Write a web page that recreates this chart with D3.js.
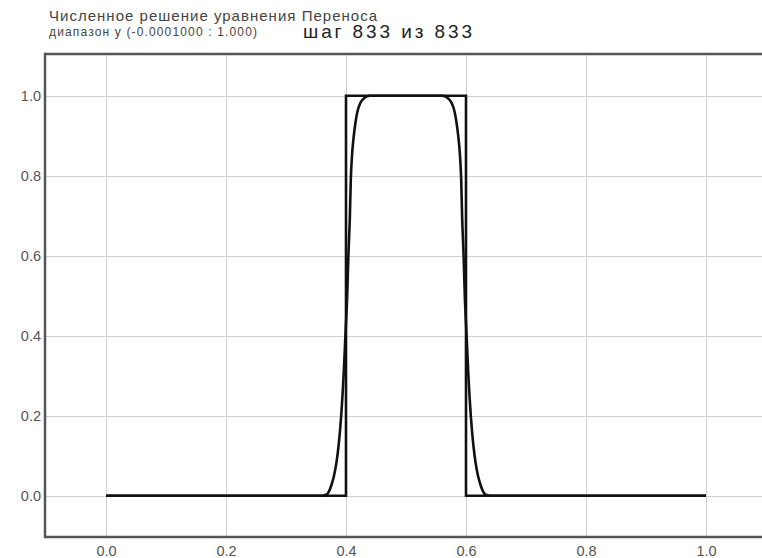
<!DOCTYPE html>
<html>
<head>
<meta charset="utf-8">
<script src="https://cdn.jsdelivr.net/npm/d3@7"></script>
<style>
  html, body { margin: 0; padding: 0; background: #fff; overflow: hidden; }
  svg { display: block; overflow: hidden; font-family: "Liberation Sans", Arial, sans-serif; }
</style>
</head>
<body>
<svg id="chart" width="762" height="558"></svg>
<script>
// Exact solution: rectangular pulse on [0.4, 0.6]
const exactX = [0.0, 0.4, 0.4, 0.6, 0.6, 1.0];
const exactY = [0.0, 0.0, 1.0, 1.0, 0.0, 0.0];

// Numerical solution after 833 steps (smoothed pulse)
const numX = [0.0, 0.360, 0.368, 0.372, 0.376, 0.380, 0.384, 0.388, 0.392, 0.396, 0.399, 0.402, 0.404, 0.4065, 0.408, 0.410, 0.413, 0.416, 0.419, 0.424, 0.429, 0.434, 0.440,
              0.560, 0.566, 0.571, 0.576, 0.581, 0.584, 0.587, 0.590, 0.592, 0.5935, 0.596, 0.598, 0.601, 0.604, 0.608, 0.612, 0.616, 0.620, 0.624, 0.628, 0.632, 0.640, 1.0];
const numY = [0.0, 0.0, 0.003, 0.012, 0.028, 0.050, 0.082, 0.130, 0.200, 0.300, 0.400, 0.500, 0.600, 0.700, 0.790, 0.850, 0.900, 0.935, 0.960, 0.982, 0.992, 0.998, 1.0,
              1.0, 0.998, 0.992, 0.982, 0.960, 0.935, 0.900, 0.850, 0.790, 0.700, 0.600, 0.500, 0.400, 0.300, 0.200, 0.130, 0.082, 0.050, 0.028, 0.012, 0.003, 0.0, 0.0];

const xTicks = [0.0, 0.2, 0.4, 0.6, 0.8, 1.0];
const yTicks = [0.0, 0.2, 0.4, 0.6, 0.8, 1.0];

const titleText = "Численное решение уравнения Переноса";
const rangeText = "диапазон y (-0.0001000 : 1.000)";
const stepText = "шаг 833 из 833";

const svg = d3.select("#chart");
// the plot area runs past the right edge of the canvas
const plot = { left: 45, top: 54, bottom: 537, right: 780 };

const x = d3.scaleLinear().domain([-0.1, 1.1]).range([46, 766]);
const y = d3.scaleLinear().domain([-0.1, 1.1]).range([535.7, 55.7]);

// grid
const grid = svg.append("g").attr("stroke", "#d0d0d0").attr("stroke-width", 1);
grid.selectAll("line.v").data(xTicks).join("line").attr("class", "v")
  .attr("x1", d => Math.round(x(d)) + 0.5).attr("x2", d => Math.round(x(d)) + 0.5)
  .attr("y1", plot.top).attr("y2", plot.bottom);
grid.selectAll("line.h").data(yTicks).join("line").attr("class", "h")
  .attr("y1", d => Math.round(y(d)) + 0.5).attr("y2", d => Math.round(y(d)) + 0.5)
  .attr("x1", plot.left).attr("x2", plot.right);

// frame: left, top and bottom edges
const frame = svg.append("g").attr("stroke", "#555").attr("stroke-width", 2.5);
frame.append("line").attr("x1", plot.left).attr("y1", plot.top - 1.25).attr("x2", plot.left).attr("y2", plot.bottom + 1.25);
frame.append("line").attr("x1", plot.left).attr("y1", plot.top).attr("x2", plot.right).attr("y2", plot.top);
frame.append("line").attr("x1", plot.left).attr("y1", plot.bottom).attr("x2", plot.right).attr("y2", plot.bottom);

// tick labels from d3 axes (domain and tick lines dropped)
const xAxis = svg.append("g").attr("transform", `translate(0,${plot.bottom})`)
  .call(d3.axisBottom(x).tickValues(xTicks).tickFormat(d3.format(".1f")).tickSize(0).tickPadding(9));
const yAxis = svg.append("g").attr("transform", `translate(${plot.left},0)`)
  .call(d3.axisLeft(y).tickValues(yTicks).tickFormat(d3.format(".1f")).tickSize(0).tickPadding(4));
[xAxis, yAxis].forEach(a => {
  a.select(".domain").remove();
  a.selectAll("text").attr("fill", "#555").attr("font-size", 14.5)
    .attr("font-family", "'Liberation Sans', Arial, sans-serif");
});

// curves
const line = d3.line().x(d => x(d[0])).y(d => y(d[1]));
svg.append("path").datum(d3.zip(exactX, exactY))
  .attr("d", line).attr("fill", "none").attr("stroke", "#111").attr("stroke-width", 2.6)
  .attr("stroke-linejoin", "miter");
svg.append("path").datum(d3.zip(numX, numY))
  .attr("d", d3.line().x(d => x(d[0])).y(d => y(d[1])).curve(d3.curveMonotoneX))
  .attr("fill", "none").attr("stroke", "#111").attr("stroke-width", 2.6);

// titles
svg.append("text").attr("x", 49).attr("y", 21).attr("font-size", 15).attr("fill", "#444")
  .attr("textLength", 328).attr("lengthAdjust", "spacing").text(titleText);
svg.append("text").attr("x", 49).attr("y", 36).attr("font-size", 12).attr("fill", "#444")
  .attr("textLength", 208).attr("lengthAdjust", "spacing").text(rangeText);
svg.append("text").attr("x", 303).attr("y", 38).attr("font-size", 19).attr("fill", "#222")
  .attr("textLength", 169).attr("lengthAdjust", "spacing").text(stepText);
</script>
</body>
</html>
